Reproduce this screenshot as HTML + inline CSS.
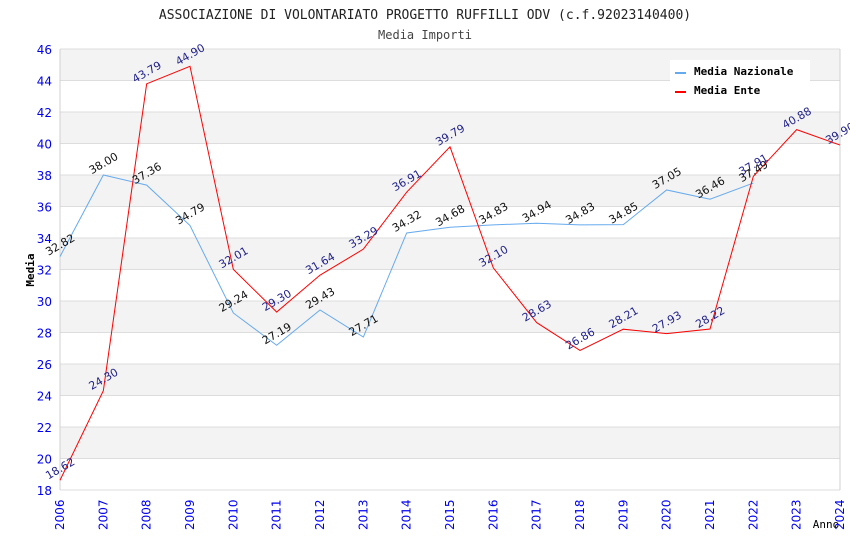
<!DOCTYPE html>
<html><head><meta charset="utf-8"><style>
body{margin:0;background:#fff}
svg text{font-family:"DejaVu Sans","Liberation Sans",sans-serif}
</style></head><body>
<svg width="850" height="550" xmlns="http://www.w3.org/2000/svg">
<g id="bands"></g>
<g id="grid"></g>
<text x="425" y="19" text-anchor="middle" font-family="DejaVu Sans Mono,Liberation Mono,monospace" style="font-family:'DejaVu Sans Mono','Liberation Mono',monospace" font-size="13" fill="#222">ASSOCIAZIONE DI VOLONTARIATO PROGETTO RUFFILLI ODV (c.f.92023140400)</text>
<text x="425" y="39" text-anchor="middle" style="font-family:'DejaVu Sans Mono','Liberation Mono',monospace" font-size="12" fill="#444">Media Importi</text>
<text x="34" y="270" text-anchor="middle" transform="rotate(-90 34 270)" style="font-family:'DejaVu Sans Mono','Liberation Mono',monospace" font-size="11" font-weight="bold" fill="#000">Media</text>
<text x="826" y="528" text-anchor="middle" style="font-family:'DejaVu Sans Mono','Liberation Mono',monospace" font-size="11" fill="#000">Anno</text>
<g id="yticks"></g><g id="xticks"></g>
<g id="lines"></g><g id="labels"></g>
<g>
<rect x="670" y="60" width="140" height="42" fill="#fff"/>
<line x1="675" y1="73" x2="686" y2="73" stroke="#66aaee" stroke-width="2"/>
<text x="694" y="75" style="font-family:'DejaVu Sans Mono','Liberation Mono',monospace" font-size="11" font-weight="bold">Media Nazionale</text>
<line x1="675" y1="92" x2="686" y2="92" stroke="#ff0000" stroke-width="2"/>
<text x="694" y="94" style="font-family:'DejaVu Sans Mono','Liberation Mono',monospace" font-size="11" font-weight="bold">Media Ente</text>
</g>
</svg>
<script>
const years=[2006,2007,2008,2009,2010,2011,2012,2013,2014,2015,2016,2017,2018,2019,2020,2021,2022,2023,2024];
const nazionale=[32.82,38.00,37.36,34.79,29.24,27.19,29.43,27.71,34.32,34.68,34.83,34.94,34.83,34.85,37.05,36.46,37.49];
const ente=[18.62,24.30,43.79,44.90,32.01,29.30,31.64,33.29,36.91,39.79,32.10,28.63,26.86,28.21,27.93,28.22,37.91,40.88,39.90];
const yTicks=[18,20,22,24,26,28,30,32,34,36,38,40,42,44,46];
const L=60,R=840,T=49,B=490,yMin=18,yMax=46;
const xs=y=>L+(y-years[0])/(years[years.length-1]-years[0])*(R-L);
const ys=v=>B-(v-yMin)/(yMax-yMin)*(B-T);
const NS='http://www.w3.org/2000/svg';
function mk(tag,attrs,parent,txt){const e=document.createElementNS(NS,tag);for(const k in attrs)e.setAttribute(k,attrs[k]);if(txt!==undefined)e.textContent=txt;document.getElementById(parent).appendChild(e);return e;}
for(let i=0;i<yTicks.length-1;i++){
  if((yTicks.length-2-i)%2===0){const r=mk('rect',{x:L,y:ys(yTicks[i+1]),width:R-L,height:ys(yTicks[i])-ys(yTicks[i+1]),fill:'#f3f3f3'},'bands');
  
  }
}
yTicks.forEach(t=>{
  const l=mk('line',{x1:L,x2:R,y1:ys(t),y2:ys(t),stroke:'#dddddd','stroke-width':1},'grid');
  
  
  const tx=mk('text',{x:L-8,y:ys(t)+5,'text-anchor':'end','font-size':12,fill:'#0000ee'},'yticks',String(t));
  
  
});
mk('line',{x1:L,x2:L,y1:T,y2:B,stroke:'#d0d0d0'},'grid');
mk('line',{x1:R,x2:R,y1:T,y2:B,stroke:'#d0d0d0'},'grid');
years.forEach(y=>{
  const x=xs(y);
  const tx=mk('text',{x:x+5,y:530,'text-anchor':'middle','font-size':12,fill:'#0000ee',transform:`rotate(-90 ${x+5} 530)`,'dominant-baseline':'auto'},'xticks',String(y));
  tx.setAttribute('x',x+4);tx.setAttribute('y',530);tx.setAttribute('transform',`rotate(-90 ${x+4} 530)`);tx.setAttribute('text-anchor','start');
  tx.setAttribute('x',x+4);
  
  
});
// fix x tick placement: rotated text from bottom upward
document.querySelectorAll('#xticks text').forEach((t,i)=>{const x=xs(years[i])+4;t.setAttribute('x',x);t.setAttribute('y',530);t.setAttribute('transform',`rotate(-90 ${x} 530)`);t.setAttribute('text-anchor','start');});
function series(vals,color,lblColor,name){
  const pts=vals.map((v,i)=>xs(years[i])+','+ys(v)).join(' ');
  const p=mk('polyline',{points:pts,fill:'none',stroke:color,'stroke-width':1},'lines');
  
  
  vals.forEach((v,i)=>{
    const x=xs(years[i]),y=ys(v)-12;
    const t=mk('text',{x:x,y:y+4,'text-anchor':'middle','font-size':11,fill:lblColor,transform:`rotate(-30 ${x} ${y})`},'labels',v.toFixed(2));
    
    
  });
}
series(nazionale,'#66aaee','#111','nazionale');
series(ente,'#ff0000','#22228a','ente');
</script>
</body></html>
